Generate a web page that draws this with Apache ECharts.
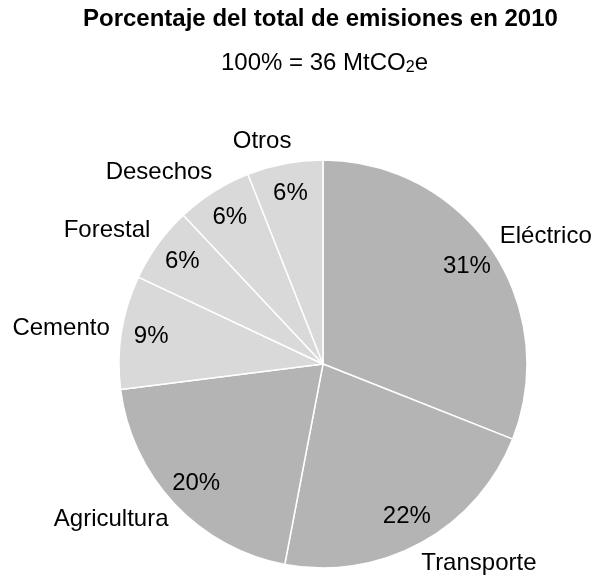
<!DOCTYPE html>
<html>
<head>
<meta charset="utf-8">
<title>Porcentaje del total de emisiones en 2010</title>
<script src="https://cdn.jsdelivr.net/npm/echarts@6/dist/echarts.min.js"></script>
<style>
  html, body { margin: 0; padding: 0; background: #ffffff; }
  #chart { width: 596px; height: 577px; }
</style>
</head>
<body>
<div id="chart"></div>
<script>
// Emission sectors, clockwise from 12 o'clock
const categories = ['Eléctrico', 'Transporte', 'Agricultura', 'Cemento', 'Forestal', 'Desechos', 'Otros'];
// Share of total emissions in 2010 (%)
const shares = [31, 22, 20, 9, 6, 6, 6];

const FONT = "'Liberation Sans', Arial, sans-serif";
const DARK = '#b4b4b4';
const LIGHT = '#d9d9d9';

const sliceData = categories.map((name, i) => ({
  name: name,
  value: shares[i],
  itemStyle: { color: i < 3 ? DARK : LIGHT }
}));

const chart = echarts.init(document.getElementById('chart'), null, { renderer: 'canvas' });

chart.setOption({
  backgroundColor: '#ffffff',
  animation: false,
  title: [
    {
      text: 'Porcentaje del total de emisiones en 2010',
      left: 83,
      top: 7,
      padding: 0,
      textStyle: { fontFamily: FONT, fontSize: 24, fontWeight: 'bold', color: '#000000' }
    },
    {
      text: '100% = 36 MtCO{sub|2}e',
      left: 221,
      top: 50,
      padding: 0,
      textStyle: {
        fontFamily: FONT, fontSize: 24, fontWeight: 'normal', color: '#000000',
        rich: {
          sub: { fontFamily: FONT, fontSize: 16, color: '#000000', verticalAlign: 'bottom', padding: [10, 0, 0, 0] }
        }
      }
    }
  ],
  series: [
    {
      // slices with sector names outside
      type: 'pie',
      center: [323, 364],
      radius: [0, 204],
      startAngle: 90,
      clockwise: true,
      avoidLabelOverlap: false,
      silent: true,
      itemStyle: { borderColor: '#ffffff', borderWidth: 1.5 },
      label: {
        show: true,
        position: 'outside',
        formatter: '{b}',
        fontFamily: FONT,
        fontSize: 24,
        color: '#000000',
        distanceToLabelLine: -11
      },
      labelLine: { show: false, length: 23, length2: 0 },
      emphasis: { disabled: true },
      data: sliceData
    },
    {
      // transparent ring carrying the percentage labels near the rim
      type: 'pie',
      center: [323, 364],
      radius: [138, 204],
      startAngle: 90,
      clockwise: true,
      silent: true,
      z: 3,
      itemStyle: { color: 'rgba(0,0,0,0)', borderWidth: 0 },
      label: {
        show: true,
        position: 'inside',
        formatter: '{c}%',
        fontFamily: FONT,
        fontSize: 24,
        color: '#000000'
      },
      labelLine: { show: false },
      emphasis: { disabled: true },
      data: categories.map((name, i) => ({ name: name, value: shares[i] }))
    }
  ]
});
</script>
</body>
</html>
